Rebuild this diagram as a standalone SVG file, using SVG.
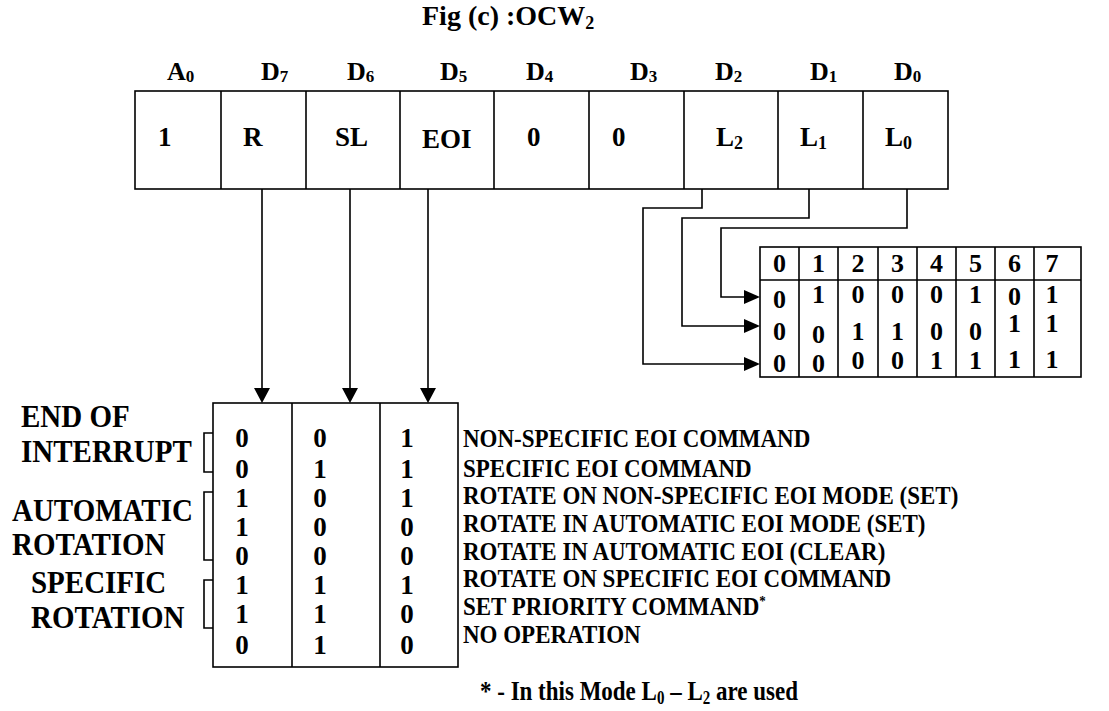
<svg xmlns="http://www.w3.org/2000/svg" width="1109" height="711" viewBox="0 0 1109 711">
<style>
.t{font-family:"Liberation Serif","Times New Roman",serif;font-weight:bold;fill:#000}
.h{font-size:26px}
.c{font-size:27px}
.d{font-size:26px;text-anchor:middle}
.b{font-size:27px;text-anchor:middle}
.r{font-size:23px}
.l{font-size:29px}
.ln{stroke:#000;stroke-width:1.6;fill:none}
.ah{fill:#000;stroke:none}
</style>
<rect width="1109" height="711" fill="#fff"/>

<g id="title">
<text class="t" font-size="28" x="422" y="25">Fig (c) :OCW<tspan font-size="18" dy="4">2</tspan></text>
</g>

<g id="register">
<rect class="ln" x="135" y="91" width="813" height="98"/>
<path class="ln" d="M221,91V189M306,91V189M400,91V189M494,91V189M589,91V189M684,91V189M778,91V189M863,91V189"/>
<g id="headers">
<text class="t h" x="167" y="80">A<tspan font-size="17" dy="2">0</tspan></text>
<text class="t h" x="261" y="80">D<tspan font-size="17" dy="2">7</tspan></text>
<text class="t h" x="347" y="80">D<tspan font-size="17" dy="2">6</tspan></text>
<text class="t h" x="440" y="80">D<tspan font-size="17" dy="2">5</tspan></text>
<text class="t h" x="526" y="80">D<tspan font-size="17" dy="2">4</tspan></text>
<text class="t h" x="630" y="80">D<tspan font-size="17" dy="2">3</tspan></text>
<text class="t h" x="715" y="80">D<tspan font-size="17" dy="2">2</tspan></text>
<text class="t h" x="810" y="80">D<tspan font-size="17" dy="2">1</tspan></text>
<text class="t h" x="894" y="80">D<tspan font-size="17" dy="2">0</tspan></text>
</g>
<g id="cells">
<text class="t c" x="158" y="146">1</text>
<text class="t c" x="243" y="146">R</text>
<text class="t c" x="335" y="146">SL</text>
<text class="t c" x="422" y="148">EOI</text>
<text class="t c" x="527" y="146">0</text>
<text class="t c" x="612" y="146">0</text>
<text class="t c" x="716" y="146">L<tspan font-size="18" dy="3">2</tspan></text>
<text class="t c" x="800" y="146">L<tspan font-size="18" dy="3">1</tspan></text>
<text class="t c" x="885" y="146">L<tspan font-size="18" dy="3">0</tspan></text>
</g>
</g>

<g id="connectors">
<path class="ln" d="M262,189V390M350,189V390M428,189V390"/>
<polygon class="ah" points="262,403 254,388 270,388"/>
<polygon class="ah" points="350,403 342,388 358,388"/>
<polygon class="ah" points="428,403 420,388 436,388"/>
<path class="ln" d="M702,189V208H643V364H746"/>
<path class="ln" d="M809,189V218H682V326H746"/>
<path class="ln" d="M907,189V228H721V297H746"/>
<polygon class="ah" points="760,297 744,290 744,304"/>
<polygon class="ah" points="760,326 744,319 744,333"/>
<polygon class="ah" points="760,364 744,357 744,371"/>
</g>

<g id="lookup-table">
<rect class="ln" x="760" y="247" width="321" height="130"/>
<path class="ln" d="M760,280H1081M799,247V377M838,247V377M878,247V377M917,247V377M956,247V377M995,247V377M1034,247V377"/>
<text class="t d" x="779.5" y="272">0</text>
<text class="t d" x="818.5" y="272">1</text>
<text class="t d" x="858" y="272">2</text>
<text class="t d" x="897.5" y="272">3</text>
<text class="t d" x="936.5" y="272">4</text>
<text class="t d" x="975.5" y="272">5</text>
<text class="t d" x="1014.5" y="272">6</text>
<text class="t d" x="1052" y="272">7</text>

<text class="t d" x="779.5" y="308">0</text>
<text class="t d" x="818.5" y="303">1</text>
<text class="t d" x="858" y="303">0</text>
<text class="t d" x="897.5" y="303">0</text>
<text class="t d" x="936.5" y="303">0</text>
<text class="t d" x="975.5" y="303">1</text>
<text class="t d" x="1014.5" y="305">0</text>
<text class="t d" x="1052" y="303">1</text>

<text class="t d" x="779.5" y="340">0</text>
<text class="t d" x="818.5" y="343">0</text>
<text class="t d" x="858" y="340">1</text>
<text class="t d" x="897.5" y="340">1</text>
<text class="t d" x="936.5" y="340">0</text>
<text class="t d" x="975.5" y="340">0</text>
<text class="t d" x="1014.5" y="332">1</text>
<text class="t d" x="1052" y="332">1</text>

<text class="t d" x="779.5" y="372">0</text>
<text class="t d" x="818.5" y="372">0</text>
<text class="t d" x="858" y="369">0</text>
<text class="t d" x="897.5" y="369">0</text>
<text class="t d" x="936.5" y="369">1</text>
<text class="t d" x="975.5" y="369">1</text>
<text class="t d" x="1014.5" y="368">1</text>
<text class="t d" x="1052" y="368">1</text>
</g>

<g id="mode-table">
<rect class="ln" x="213" y="403" width="245" height="264"/>
<path class="ln" d="M292,403V667M380,403V667"/>
<g id="col-R">
<text class="t b" x="242" y="447">0</text>
<text class="t b" x="242" y="478">0</text>
<text class="t b" x="242" y="507">1</text>
<text class="t b" x="242" y="536">1</text>
<text class="t b" x="242" y="565">0</text>
<text class="t b" x="242" y="594">1</text>
<text class="t b" x="242" y="623">1</text>
<text class="t b" x="242" y="654">0</text>
</g>
<g id="col-SL">
<text class="t b" x="320" y="447">0</text>
<text class="t b" x="320" y="478">1</text>
<text class="t b" x="320" y="507">0</text>
<text class="t b" x="320" y="536">0</text>
<text class="t b" x="320" y="565">0</text>
<text class="t b" x="320" y="594">1</text>
<text class="t b" x="320" y="623">1</text>
<text class="t b" x="320" y="654">1</text>
</g>
<g id="col-EOI">
<text class="t b" x="407" y="447">1</text>
<text class="t b" x="407" y="478">1</text>
<text class="t b" x="407" y="507">1</text>
<text class="t b" x="407" y="536">0</text>
<text class="t b" x="407" y="565">0</text>
<text class="t b" x="407" y="594">1</text>
<text class="t b" x="407" y="623">0</text>
<text class="t b" x="407" y="654">0</text>
</g>
</g>

<g id="group-labels">
<path class="ln" d="M213,433H204V472H213M213,492H204V560H213M213,580H204V628H213"/>
<text class="t l" transform="translate(21,427) scale(1,1.1)">END OF</text>
<text class="t l" transform="translate(21,462) scale(1,1.1)">INTERRUPT</text>
<text class="t l" transform="translate(12,521) scale(1,1.1)">AUTOMATIC</text>
<text class="t l" transform="translate(12,555) scale(1,1.1)">ROTATION</text>
<text class="t l" transform="translate(31,593) scale(1,1.1)">SPECIFIC</text>
<text class="t l" transform="translate(31,628) scale(1,1.1)">ROTATION</text>
</g>

<g id="descriptions">
<text class="t r" transform="translate(463,447) scale(1,1.08)">NON-SPECIFIC EOI COMMAND</text>
<text class="t r" transform="translate(463,477) scale(1,1.08)">SPECIFIC EOI COMMAND</text>
<text class="t r" transform="translate(463,504) scale(1,1.08)">ROTATE ON NON-SPECIFIC EOI MODE (SET)</text>
<text class="t r" transform="translate(463,532) scale(1,1.08)">ROTATE IN AUTOMATIC EOI MODE (SET)</text>
<text class="t r" transform="translate(463,560) scale(1,1.08)">ROTATE IN AUTOMATIC EOI (CLEAR)</text>
<text class="t r" transform="translate(463,587) scale(1,1.08)">ROTATE ON SPECIFIC EOI COMMAND</text>
<text class="t r" transform="translate(463,615) scale(1,1.08)">SET PRIORITY COMMAND<tspan font-size="13" dy="-8">*</tspan></text>
<text class="t r" transform="translate(463,643) scale(1,1.08)">NO OPERATION</text>
</g>

<g id="footnote">
<text class="t r" transform="translate(480,700) scale(1,1.2)">* - In this Mode L<tspan font-size="15" dy="3">0</tspan><tspan dy="-3"> – L</tspan><tspan font-size="15" dy="3">2</tspan><tspan dy="-3"> are used</tspan></text>
</g>
</svg>
